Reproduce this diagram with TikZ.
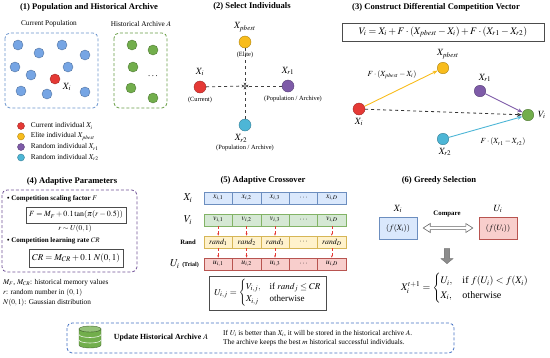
\documentclass[tikz,border=0pt]{standalone}
\usepackage{amsmath}
\usepackage{mathptmx}
\usepackage{fontspec}
\setmainfont{Liberation Serif}
\usetikzlibrary{arrows.meta,shapes.arrows,positioning}

\definecolor{cRed}{HTML}{E53935}
\definecolor{cYel}{HTML}{F8BC1C}
\definecolor{cPur}{HTML}{7E5BA8}
\definecolor{cCyn}{HTML}{4DB6D6}
\definecolor{cBlu}{HTML}{76A5E4}
\definecolor{cGrn}{HTML}{72AE4C}
\definecolor{fBlu}{HTML}{DAE8FC}
\definecolor{dBlu}{HTML}{6C8EBF}
\definecolor{fGrn}{HTML}{D5E8D4}
\definecolor{dGrn}{HTML}{82B366}
\definecolor{fYel}{HTML}{FFF2CC}
\definecolor{dYel}{HTML}{D6B656}
\definecolor{fRed}{HTML}{F8CECC}
\definecolor{dRed}{HTML}{B85450}
\definecolor{gBox}{HTML}{4472C4}

\tikzset{
  ind/.style={circle, inner sep=0pt, minimum size=10pt, fill=#1, draw=#1!70!black, line width=0.4pt},
  ttl/.style={font=\fontsize{8.6}{10}\selectfont\bfseries},
  txt/.style={font=\fontsize{7.3}{8.8}\selectfont, inner sep=1pt},
  tiny/.style={font=\fontsize{6.4}{7.6}\selectfont, inner sep=1pt},
  mlbl/.style={font=\fontsize{9.5}{11}\selectfont, inner sep=1pt},
  grp/.style={draw=#1, dash pattern=on 3pt off 2pt, rounded corners=5pt, line width=0.8pt},
  cell/.style={rectangle, inner sep=0pt, minimum width=28.4pt, minimum height=12pt,
    font=\fontsize{7.8}{9}\selectfont, line width=0.5pt},
  fbox/.style={draw=black!70, line width=0.5pt, inner sep=3pt},
  sel/.style={dashed, thick, black!75, -{Stealth[length=3.5pt]}},
  vec/.style={line width=0.9pt, draw=#1, -{Stealth[length=5pt]}},
  rd/.style={draw=cRed, densely dashed, line width=0.5pt, -{Stealth[length=2.5pt]}}
}

\begin{document}
\begin{tikzpicture}[x=1pt, y=-1pt]
  \useasboundingbox (0,0) rectangle (550,357);

  \node[ttl] (t1) at (89,7) {(1) Population and Historical Archive};
  \node[txt] (lpop) at (49,24) {Current Population};
  \node[txt] (larc) at (141,24) {Historical Archive \(A\)};
  \draw[grp=cBlu!90!black] (5,33) rectangle (98,108);
  \draw[grp=cGrn!90!black] (114,33) rectangle (167,108);
  \foreach \px/\py [count=\k] in {18/45, 39/53, 62/45, 85/55, 15/67, 31/75, 68/67, 21/91, 47/94, 85/92}
    \node[ind=cBlu] (p\k) at (\px,\py) {};
  \node[ind=cRed] (pcur) at (55,79) {};
  \node[mlbl] (lcur) at (67,87) {\(X_i\)};
  \foreach \px/\py [count=\k] in {132/45, 153/50, 133/67, 131/88, 153/98}
    \node[ind=cGrn] (a\k) at (\px,\py) {};
  \node[mlbl] (adots) at (153,76) {\(\cdots\)};

  \node[ind=cRed, minimum size=7pt] (g1) at (21,126) {};
  \node[ind=cYel, minimum size=7pt] (g2) at (21,136.5) {};
  \node[ind=cPur, minimum size=7pt] (g3) at (21,147) {};
  \node[ind=cCyn, minimum size=7pt] (g4) at (21,157.5) {};
  \node[txt, right=5pt of g1] (l1) {Current individual \(X_i\)};
  \node[txt, right=5pt of g2] (l2) {Elite individual \(X_{pbest}\)};
  \node[txt, right=5pt of g3] (l3) {Random individual \(X_{r1}\)};
  \node[txt, right=5pt of g4] (l4) {Random individual \(X_{r2}\)};

  \node[ttl] (t2) at (252,6) {(2) Select Individuals};
  \coordinate (smid) at (245,86);
  \node[ind=cYel, minimum size=12pt] (sbest) at (245,42) {};
  \node[ind=cRed, minimum size=12pt] (scur) at (200,87) {};
  \node[ind=cPur, minimum size=12pt] (sr1) at (288,86) {};
  \node[ind=cCyn, minimum size=12pt] (sr2) at (245,125) {};
  \node[mlbl, above=3pt of sbest] (sbl) {\(X_{pbest}\)};
  \node[tiny, below=3pt of sbest] (sbt) {(Elite)};
  \node[mlbl, above=4pt of scur] (scl) {\(X_i\)};
  \node[tiny, below=3pt of scur] (sct) {(Current)};
  \node[mlbl, above=4pt of sr1] (s1l) {\(X_{r1}\)};
  \node[tiny, below=3pt of sr1, xshift=5pt] (s1t) {(Population / Archive)};
  \node[mlbl, below=2pt of sr2, xshift=-4pt] (s2l) {\(X_{r2}\)};
  \node[tiny, below=1pt of s2l, xshift=4pt] (s2t) {(Population / Archive)};
  \draw[sel] (scur) -- (smid);
  \draw[sel] (sr1) -- (smid);
  \draw[sel] (sbest) -- (smid);
  \draw[sel] (sr2) -- (smid);

  \node[ttl] (t3) at (436,7) {(3) Construct Differential Competition Vector};
  \node[fbox, minimum width=202pt, minimum height=18pt, font=\fontsize{10}{12}\selectfont] (feq) at (443,32)
    {\(V_i = X_i + F\cdot(X_{pbest} - X_i) + F\cdot(X_{r1} - X_{r2})\)};
  \node[ind=cRed, minimum size=12pt] (dcur) at (359,109) {};
  \node[ind=cYel, minimum size=11.5pt] (dbest) at (443,68) {};
  \node[ind=cPur, minimum size=11.5pt] (dr1) at (480,91) {};
  \node[ind=cCyn, minimum size=11.5pt] (dr2) at (443,139) {};
  \node[ind=cGrn, minimum size=11.5pt] (dv) at (528,115) {};
  \node[mlbl, below=2pt of dcur] (dcl) {\(X_i\)};
  \node[mlbl, above=2pt of dbest, xshift=5pt] (dbl) {\(X_{pbest}\)};
  \node[mlbl, above=2pt of dr1, xshift=5pt] (d1l) {\(X_{r1}\)};
  \node[mlbl, below=2pt of dr2, xshift=2pt] (d2l) {\(X_{r2}\)};
  \node[mlbl, right=3pt of dv] (dvl) {\(V_i\)};
  \draw[vec=cYel] (dcur) -- (dbest);
  \draw[vec=cPur] (dr1) -- (dv);
  \draw[vec=cCyn] (dr2) -- (dv);
  \draw[dashed, line width=0.8pt, black!80, -{Stealth[length=5pt]}] (dcur) -- (dv);
  \node[font=\fontsize{7.8}{9}\selectfont] (dlb) at (392,75) {\(F\cdot(X_{pbest} - X_i)\)};
  \node[font=\fontsize{7.8}{9}\selectfont] (dlr) at (503,142) {\(F\cdot(X_{r1} - X_{r2})\)};

  \node[ttl] (t4) at (72,181) {(4) Adaptive Parameters};
  \draw[grp=cPur!90!black] (2,190) rectangle (137,272);
  \node[txt, anchor=west, font=\fontsize{7}{8.4}\selectfont\bfseries] (b1) at (6,199)
    {\textbullet\ Competition scaling factor \(F\)};
  \node[fbox, minimum width=87pt, minimum height=16pt, font=\fontsize{7.9}{9}\selectfont] (ff) at (76,215)
    {\(F = M_F + 0.1\tan(\pi(r-0.5))\)};
  \node[txt] (fr) at (75,229) {\(r\sim U(0,1)\)};
  \node[txt, anchor=west, font=\fontsize{7}{8.4}\selectfont\bfseries] (b2) at (6,241)
    {\textbullet\ Competition learning rate \(CR\)};
  \node[fbox, minimum width=87pt, minimum height=18pt, font=\fontsize{9}{10.5}\selectfont] (fcr) at (76,258)
    {\(CR = M_{CR} + 0.1\;N(0,1)\)};
  \node[txt, anchor=west] (n1) at (2,283) {\(M_F\), \(M_{CR}\): historical memory values};
  \node[txt, anchor=west] (n2) at (2,293) {\(r\): random number in \((0,1)\)};
  \node[txt, anchor=west] (n3) at (2,303) {\(N(0,1)\): Gaussian distribution};

  \node[ttl] (t5) at (263,180) {(5) Adaptive Crossover};
  \node[mlbl, font=\fontsize{10.5}{12}\selectfont] (rxl) at (188,198) {\(X_i\)};
  \node[mlbl, font=\fontsize{10.5}{12}\selectfont] (rvl) at (188,220) {\(V_i\)};
  \node[tiny, font=\fontsize{6.6}{7.6}\selectfont\bfseries] (rrl) at (188,242) {Rand};
  \node[anchor=east, inner sep=1pt] (rul) at (200,264)
    {\fontsize{10.5}{12}\selectfont\(U_i\) \fontsize{6}{7}\selectfont\bfseries(Trial)};
  \foreach \r/\y/\fc/\dc in {x/198/fBlu/dBlu, v/220/fGrn/dGrn, u/264/fRed/dRed} {
    \foreach \c/\k in {1/1, 2/2, 3/3, 5/D}
      \node[cell, fill=\fc, draw=\dc] (\r\c) at ({189.8+28.4*\c},\y) {\(\r_{i,\k}\)};
    \node[cell, fill=\fc, draw=\dc] (\r4) at ({189.8+28.4*4},\y) {\(\cdots\)};
  }
  \foreach \c/\k in {1/1, 2/2, 3/3, 5/D}
    \node[cell, fill=fYel, draw=dYel] (r\c) at ({189.8+28.4*\c},242) {\(rand_{\k}\)};
  \node[cell, fill=fYel, draw=dYel] (r4) at ({189.8+28.4*4},242) {\(\cdots\)};
  \foreach \c in {1,2,3,5} {
    \draw[rd] (v\c) -- (r\c);
    \draw[rd] (r\c) -- (u\c);
  }
  \node[fbox, minimum width=117pt, minimum height=34pt, font=\fontsize{9}{10.5}\selectfont] (fu) at (268,293)
    {\(U_{i,j} = \begin{cases} V_{i,j}, & \text{if } rand_j \le CR\\ X_{i,j} & \text{otherwise}\end{cases}\)};

  \node[ttl] (t6) at (439,180) {(6) Greedy Selection};
  \node[draw=dBlu, fill=fBlu, minimum width=38pt, minimum height=22pt, font=\fontsize{8}{9}\selectfont] (gx) at (398,228) {\((f(X_i))\)};
  \node[draw=dRed, fill=fRed, minimum width=38pt, minimum height=22pt, font=\fontsize{8}{9}\selectfont] (gu) at (498,228) {\((f(U_i))\)};
  \node[mlbl, above=3pt of gx] (gxl) {\(X_i\)};
  \node[mlbl, above=3pt of gu] (gul) {\(U_i\)};
  \node[font=\fontsize{6.8}{8}\selectfont\bfseries, inner sep=1pt] (gcmp) at (447,214) {Compare};
  \coordinate (ca) at ([xshift=6pt]gx.east);
  \coordinate (cb) at ([xshift=-6pt]gu.west);
  \draw[draw=black!60, fill=white, line width=0.6pt, line join=miter]
    (ca) -- ([shift={(7,-4.5)}]ca) -- ([shift={(7,-1.6)}]ca) -- ([shift={(-7,-1.6)}]cb)
    -- ([shift={(-7,-4.5)}]cb) -- (cb) -- ([shift={(-7,4.5)}]cb) -- ([shift={(-7,1.6)}]cb)
    -- ([shift={(7,1.6)}]ca) -- ([shift={(7,4.5)}]ca) -- cycle;
  \node[single arrow, fill=black!45, draw=black!55, minimum width=12pt, minimum height=15pt,
    single arrow head extend=2pt, single arrow tip angle=100, inner sep=1.5pt, shape border rotate=270] (gdown) at (447,255) {};
  \node[font=\fontsize{10}{12}\selectfont] (fg) at (465,288)
    {\(X_i^{t+1} = \begin{cases} U_i, & \text{if } f(U_i) < f(X_i)\\ X_i, & \text{otherwise}\end{cases}\)};

  \draw[grp=gBox] (67,323) rectangle (454,353);
  \begin{scope}[shift={(90,337)}]
    \filldraw[fill=cGrn, draw=cGrn!60!black, line width=0.4pt]
      (-11,-8) -- (-11,8) arc (180:0:11 and 3) -- (11,-8) arc (0:180:11 and 3) -- cycle;
    \filldraw[fill=cGrn!75!white, draw=cGrn!60!black, line width=0.4pt] (0,-8) ellipse (11 and 3);
    \draw[white!85!cGrn, line width=0.6pt] (-11,-2.5) arc (180:0:11 and 3);
    \draw[white!85!cGrn, line width=0.6pt] (-11,3) arc (180:0:11 and 3);
  \end{scope}
  \node[font=\fontsize{7.8}{9}\selectfont\bfseries] (uh) at (161,338) {Update Historical Archive \(A\)};
  \node[txt, anchor=west, align=left] (ut) at (222,338)
    {If \(U_i\) is better than \(X_i\), it will be stored in the historical archive \(A\).\\
     The archive keeps the best \(m\) historical successful individuals.};
\end{tikzpicture}
\end{document}
